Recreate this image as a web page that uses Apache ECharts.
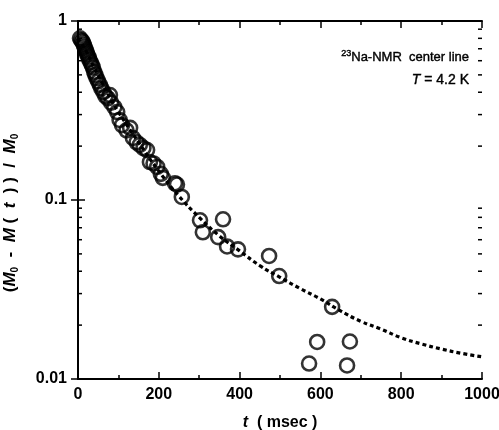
<!DOCTYPE html>
<html><head><meta charset="utf-8">
<script src="https://cdn.jsdelivr.net/npm/echarts@6/dist/echarts.min.js"></script>
<style>html,body{margin:0;padding:0;background:#fff}#c{width:499px;height:430px}</style>
</head><body><div id="c"></div>
<script>
// Measured data: time (msec) and normalized recovery (M0 - M(t)) / M0
const times = [5, 8, 11, 13, 15, 17, 19, 21, 23, 26, 28, 31, 34, 37, 40, 43, 46, 50, 54, 58, 63, 68, 74,
  79, 82, 90, 97, 103, 109, 120, 129, 136, 145, 153, 162, 171, 178, 187, 196, 205, 210, 240, 245, 257,
  302, 309, 347, 359, 369, 396, 473, 498, 572, 592, 629, 666, 673, 871];
const values = [0.80, 0.78, 0.77, 0.75, 0.73, 0.71, 0.69, 0.67, 0.65, 0.63, 0.61, 0.59, 0.57, 0.55, 0.52, 0.50, 0.48, 0.46, 0.44, 0.42, 0.40, 0.38, 0.37,
  0.386, 0.35, 0.33, 0.31, 0.28, 0.262, 0.245, 0.253, 0.222, 0.21, 0.203, 0.195, 0.19, 0.163, 0.16, 0.153, 0.14, 0.133, 0.124, 0.122, 0.104,
  0.077, 0.066, 0.062, 0.078, 0.055, 0.053, 0.0487, 0.0376, 0.0122, 0.0161, 0.0253, 0.0119, 0.0162, 0.0099];
// Fit curve (dashed)
const fitTimes = [0, 20, 40, 60, 80, 100, 150, 200, 250, 300, 350, 400, 450, 500, 550, 600, 650, 700, 750, 800, 850, 900, 950, 1000];
const fitValues = [0.80, 0.68, 0.55, 0.45, 0.37, 0.31, 0.21, 0.145, 0.105, 0.080, 0.063, 0.052, 0.043, 0.037, 0.032, 0.028, 0.024, 0.021, 0.019, 0.017, 0.0157, 0.0147, 0.0139, 0.0133];
const yMinorTicks = [0.02, 0.03, 0.04, 0.05, 0.06, 0.07, 0.08, 0.09, 0.2, 0.3, 0.4, 0.5, 0.6, 0.7, 0.8, 0.9];
const xMin = 0, xMax = 1000, xInterval = 200;
const yMin = 0.01, yMax = 1;

const FONT = 'Liberation Sans, Arial, sans-serif';
const chart = echarts.init(document.getElementById('c'), null, {renderer: 'canvas'});

const axisLine = {show: true, lineStyle: {color: '#000', width: 2}};
const xCommon = {
  type: 'value', min: xMin, max: xMax, interval: xInterval,
  axisLine: axisLine, splitLine: {show: false},
  axisTick: {show: true, inside: true, length: 7, lineStyle: {color: '#000', width: 1.5}},
  minorTick: {show: true, splitNumber: 2, length: 4, lineStyle: {color: '#000', width: 1.5}},
};
const yCommon = {
  type: 'log', logBase: 10, min: yMin, max: yMax,
  axisLine: axisLine, splitLine: {show: false},
  axisTick: {show: true, inside: true, length: 7, lineStyle: {color: '#000', width: 1.5}},
};

chart.setOption({
  animation: false,
  backgroundColor: '#fff',
  grid: {left: 78, right: 17, top: 21, bottom: 51, containLabel: false, outerBoundsMode: 'none'},
  xAxis: [
    Object.assign({}, xCommon, {
      position: 'bottom',
      axisLabel: {show: true, color: '#000', fontFamily: FONT, fontWeight: 'bold', fontSize: 16, margin: 8,
        formatter: v => String(v)},
      name: '{i|t}  ( msec )', nameLocation: 'middle', nameGap: 36,
      nameTextStyle: {color: '#000', fontFamily: FONT, fontWeight: 'bold', fontSize: 16,
        rich: {i: {fontFamily: FONT, fontStyle: 'italic', fontWeight: 'bold', fontSize: 16, color: '#000'}}}
    }),
    Object.assign({}, xCommon, {position: 'top', axisLabel: {show: false}})
  ],
  yAxis: [
    Object.assign({}, yCommon, {
      position: 'left',
      axisLabel: {show: true, color: '#000', fontFamily: FONT, fontWeight: 'bold', fontSize: 16, margin: 11,
        formatter: v => String(+(+v).toPrecision(3))},
      name: '({m|M}{s|0}  -  {m|M} (  {m|t}  ) )  /  {m|M}{s|0}', nameLocation: 'middle', nameGap: 58, nameRotate: 90,
      nameTextStyle: {color: '#000', fontFamily: FONT, fontWeight: 'bold', fontSize: 17, padding: [0, 26, 0, 0],
        rich: {
          m: {fontFamily: FONT, fontStyle: 'italic', fontWeight: 'bold', fontSize: 17, color: '#000'},
          s: {fontFamily: FONT, fontWeight: 'bold', fontSize: 10, color: '#000', verticalAlign: 'bottom', padding: [9, 0, 0, 0]}
        }}
    }),
    Object.assign({}, yCommon, {position: 'right', axisLabel: {show: false}})
  ],
  graphic: [
    {type: 'text', x: 469, y: 57, style: {
      text: '{sup|23}Na-NMR  center line', align: 'right', verticalAlign: 'middle',
      fontFamily: FONT, fontSize: 13, fill: '#000', stroke: '#000', lineWidth: 0.4,
      rich: {sup: {fontFamily: FONT, fontSize: 9, fill: '#000', padding: [0, 0, 6, 0]}}
    }},
    {type: 'text', x: 469, y: 80, style: {
      text: '{i|T} = 4.2 K', align: 'right', verticalAlign: 'middle',
      fontFamily: FONT, fontSize: 14, fill: '#000', stroke: '#000', lineWidth: 0.4,
      rich: {i: {fontFamily: FONT, fontStyle: 'italic', fontSize: 14, fill: '#000'}}
    }}
  ],
  series: [
    {
      type: 'line', xAxisIndex: 0, yAxisIndex: 0, smooth: true, symbol: 'none', silent: true,
      data: fitTimes.map((t, i) => [t, fitValues[i]]),
      lineStyle: {color: '#000', width: 3.2, type: [4, 3]}
    },
    {
      type: 'scatter', xAxisIndex: 0, yAxisIndex: 0, symbol: 'circle', symbolSize: 14,
      data: times.map((t, i) => [t, values[i]]),
      itemStyle: {color: 'rgba(255,255,255,0)', borderColor: '#000', borderWidth: 2.6}
    },
    {
      type: 'custom', xAxisIndex: 0, yAxisIndex: 0, silent: true, clip: false,
      data: yMinorTicks.map(v => [xMin, v]),
      renderItem: function (params, api) {
        const p = api.coord([xMin, api.value(1)]);
        const cs = params.coordSys;
        return {type: 'group', children: [
          {type: 'line', shape: {x1: cs.x, y1: p[1], x2: cs.x + 4, y2: p[1]}, style: {stroke: '#000', lineWidth: 1.5}},
          {type: 'line', shape: {x1: cs.x + cs.width, y1: p[1], x2: cs.x + cs.width - 4, y2: p[1]}, style: {stroke: '#000', lineWidth: 1.5}}
        ]};
      }
    }
  ]
});
</script>
</body></html>
